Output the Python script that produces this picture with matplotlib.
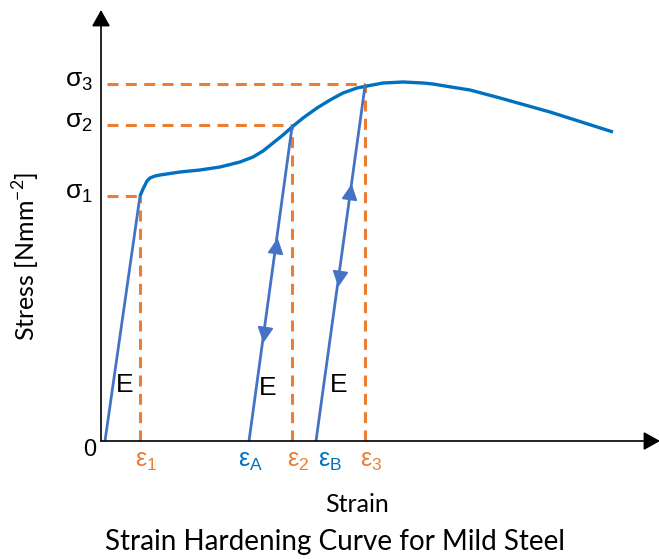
import matplotlib
matplotlib.use('Agg')
import matplotlib.pyplot as plt
from matplotlib.markers import MarkerStyle
from matplotlib.transforms import Affine2D
import numpy as np

# ---- data (arbitrary units) ----
elastic_strain = [4, 39]
elastic_stress = [0, 245]
curve_strain = [39, 42, 44, 46, 49, 54, 59, 79, 99, 119, 139, 152, 162, 172, 182, 191,
                202, 216, 229, 242, 256, 266, 282, 302, 322, 332, 350, 369, 399, 449, 512]
curve_stress = [245, 252, 256, 260, 263, 265, 266, 269, 271, 274, 279, 284, 290, 298, 306, 314,
                323, 333, 341, 348, 353, 355, 358, 359, 358, 357, 354, 351, 343, 329, 309]
sigma_values = [245, 316, 357]
sigma_labels = ['σ$_{\\mathdefault{1}}$', 'σ$_{\\mathdefault{2}}$', 'σ$_{\\mathdefault{3}}$']
eps_values = [39, 191, 264]
eps_labels = ['ε$_{\\mathdefault{1}}$', 'ε$_{\\mathdefault{2}}$', 'ε$_{\\mathdefault{3}}$']
unload_start = [148, 215]           # eps_A, eps_B
unload_end_strain = [191, 264]
unload_end_stress = [314, 355]
unload_labels = ['ε$_{\\mathdefault{A}}$', 'ε$_{\\mathdefault{B}}$']
arrow_up_frac = [0.62, 0.70]
arrow_down_frac = [0.34, 0.46]
E_pos_strain = [24, 167, 238]
E_pos_stress = [56, 53, 56]

ORANGE = '#ED7D31'
BLUE = '#0070C0'
LBLUE = '#4472C4'
LAB = 'Liberation Sans'

W, H = 659, 559
fig = plt.figure(figsize=(W / 100, H / 100), dpi=100)
x0, y0, x1, y1 = 101, 441, 660, 10
ax = fig.add_axes([x0 / W, (H - y0) / H, (x1 - x0) / W, (y0 - y1) / H])
ax.set_xlim(0, x1 - x0)
ax.set_ylim(0, y0 - y1)
ax.axis('off')

# axes arrows
arrow_kw = dict(arrowstyle='-|>,head_length=0.5,head_width=0.28', color='black',
                lw=1.2, mutation_scale=20, shrinkA=0, shrinkB=0)
ax.annotate('', xy=(1, 0), xytext=(0, 0), xycoords='axes fraction',
            arrowprops=arrow_kw, annotation_clip=False)
ax.annotate('', xy=(0, 1), xytext=(0, 0), xycoords='axes fraction',
            arrowprops=arrow_kw, annotation_clip=False)

dash = (0, (3.6, 2.4))
# dashed guide lines
for s, e in zip(sigma_values, eps_values):
    ax.plot([6, e], [s, s], color=ORANGE, lw=2.2, ls=dash, dash_capstyle='butt')
    ax.plot([e, e], [0, s], color=ORANGE, lw=2.2, ls=dash, dash_capstyle='butt')

# elastic line and curve
ax.plot(elastic_strain, elastic_stress, color=LBLUE, lw=2.0, solid_capstyle='round')
ax.plot(curve_strain, curve_stress, color=BLUE, lw=2.4, solid_joinstyle='round',
        solid_capstyle='butt')

# unloading / reloading lines with direction arrows
for xs, xe, ye, fu, fd in zip(unload_start, unload_end_strain, unload_end_stress,
                              arrow_up_frac, arrow_down_frac):
    ax.plot([xs, xe], [0, ye], color=LBLUE, lw=2.0)
    ang = np.degrees(np.arctan2(xe - xs, ye))
    up = MarkerStyle('^', transform=Affine2D().rotate_deg(-ang))
    dn = MarkerStyle('v', transform=Affine2D().rotate_deg(-ang))
    ax.plot([xs + fu * (xe - xs)], [fu * ye], marker=up, ms=10, color=LBLUE, mec=LBLUE)
    ax.plot([xs + fd * (xe - xs)], [fd * ye], marker=dn, ms=10, color=LBLUE, mec=LBLUE)

# labels
for s, lab in zip(sigma_values, sigma_labels):
    ax.text(-22, s + 3, lab, ha='center', va='center', fontsize=19, family=LAB,
            clip_on=False)
for e, lab in zip(eps_values, eps_labels):
    ax.text(e + 6, -20, lab, ha='center', va='center', fontsize=18, family=LAB,
            color=ORANGE, clip_on=False)
for e, lab in zip(unload_start, unload_labels):
    ax.text(e + 2 + (0 if e < 200 else 12), -20, lab, ha='center', va='center',
            fontsize=18, family=LAB, color=BLUE, clip_on=False)
for xs, ys in zip(E_pos_strain, E_pos_stress):
    ax.text(xs, ys, 'E', ha='center', va='center', fontsize=19, family=LAB)
ax.text(-11, -9, '0', ha='center', va='center', fontsize=17, family=LAB, clip_on=False)

fig.text(357 / W, 1 - 505 / H, 'Strain', ha='center', va='center', fontsize=18,
         family='Lato')
fig.text(335 / W, 1 - 542 / H, 'Strain Hardening Curve for Mild Steel', ha='center',
         va='center', fontsize=20, family='Lato')
fig.text(26 / W, 1 - 256 / H, 'Stress [Nmm$^{\\mathdefault{-2}}$]', ha='center',
         va='center', rotation=90, fontsize=18, family='Lato')

fig.savefig('out.png', dpi=100)
